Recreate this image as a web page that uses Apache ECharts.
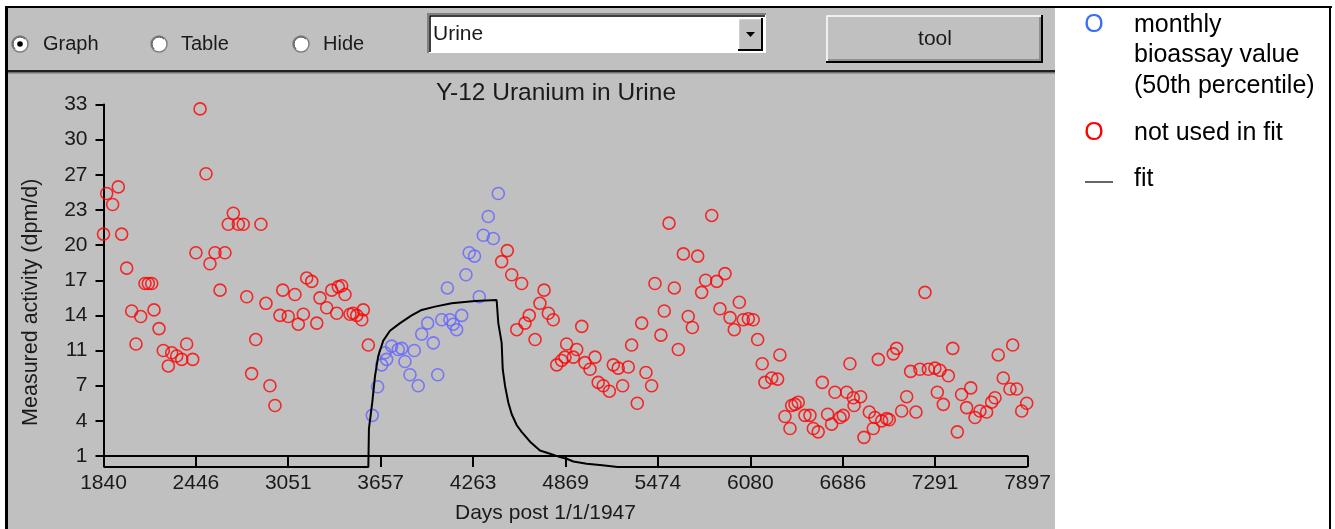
<!DOCTYPE html>
<html><head><meta charset="utf-8">
<script src="https://cdn.jsdelivr.net/npm/echarts@6/dist/echarts.min.js"></script>
<style>html,body{margin:0;padding:0;background:#fff}#chart{width:1335px;height:529px}</style>
</head><body><div id="chart"></div>
<script>
// ---- tick labels ----
const xTickValues = [1840, 2446, 3051, 3657, 4263, 4869, 5474, 6080, 6686, 7291, 7897];
const yTickValues = [1, 4.2, 7.4, 10.6, 13.8, 17, 20.2, 23.4, 26.6, 29.8, 33];
const yTickLabels = ['1', '4', '7', '11', '14', '17', '20', '23', '27', '30', '33'];

// ---- monthly bioassay values used in fit (blue) ----
const usedDays = [3602, 3637, 3664, 3685, 3696, 3729, 3772, 3795, 3816, 3849, 3877, 3903, 3926, 3965, 4002, 4031, 4057, 4094, 4111, 4133, 4155, 4188, 4216, 4237, 4272, 4303, 4330, 4362, 4395, 4428];
const usedValues = [4.7, 7.3, 9.3, 10.4, 9.8, 11.0, 10.7, 10.8, 9.6, 8.4, 10.6, 7.4, 12.1, 13.1, 11.3, 8.4, 13.4, 16.3, 13.4, 13.0, 12.5, 13.8, 17.5, 19.5, 19.2, 15.5, 21.1, 22.8, 20.8, 24.9];

// ---- values not used in fit (red) ----
const notUsedDays = [1840, 1861, 1900, 1937, 1959, 1992, 2025, 2053, 2084, 2112, 2134, 2156, 2171, 2204, 2232, 2265, 2287, 2320, 2353, 2385, 2425, 2446, 2473, 2512, 2538, 2571, 2604, 2636, 2658, 2691, 2724, 2756, 2779, 2811, 2838, 2872, 2905, 2931, 2964, 2997, 3015, 3051, 3095, 3117, 3150, 3172, 3205, 3238, 3259, 3303, 3336, 3369, 3379, 3401, 3423, 3456, 3477, 3500, 3533, 3543, 3576,
  4450, 4487, 4516, 4549, 4581, 4603, 4631, 4669, 4701, 4728, 4756, 4788, 4811, 4843, 4865, 4876, 4920, 4942, 4975, 4996, 5029, 5062, 5083, 5116, 5156, 5182, 5214, 5243, 5280, 5302, 5339, 5368, 5396, 5433, 5455, 5494, 5516, 5547, 5582, 5608, 5641, 5673, 5700, 5735, 5761, 5787, 5827, 5860, 5881, 5914, 5947, 5975, 6008, 6034, 6067, 6099, 6128, 6158, 6176, 6220, 6259, 6274, 6307, 6340, 6351, 6373, 6394, 6438, 6471, 6493, 6525, 6552, 6587, 6613, 6635, 6668, 6689, 6712, 6733, 6755, 6760, 6803, 6825, 6860, 6886, 6897, 6919, 6941, 6974, 6991, 7017, 7039, 7072, 7105, 7131, 7166, 7192, 7225, 7247, 7290, 7306, 7323, 7345, 7378, 7407, 7437, 7465, 7498, 7525, 7553, 7585, 7629, 7662, 7684, 7705, 7738, 7782, 7800, 7826, 7859, 7892];
const notUsedValues = [21.2, 24.9, 23.9, 25.5, 21.2, 18.1, 14.2, 11.2, 13.7, 16.7, 16.7, 16.7, 14.3, 12.6, 10.6, 9.2, 10.4, 10.1, 9.8, 11.2, 9.8, 19.5, 32.6, 26.7, 18.5, 19.5, 16.1, 19.5, 22.1, 23.1, 22.1, 22.1, 15.5, 8.5, 11.6, 22.1, 14.9, 7.4, 5.6, 13.8, 16.1, 13.7, 15.7, 13.0, 13.9, 17.2, 16.9, 13.1, 15.4, 14.5, 16.1, 14.0, 16.4, 16.5, 15.7, 13.9, 14.0, 13.8, 13.4, 14.3, 11.1,
  18.7, 19.7, 17.5, 12.5, 16.7, 13.1, 13.8, 11.6, 14.9, 16.1, 14.0, 13.4, 9.3, 9.7, 10.0, 11.2, 10.0, 10.7, 12.8, 9.5, 8.9, 10.0, 7.7, 7.4, 6.9, 9.3, 9.0, 7.4, 9.1, 11.1, 5.8, 13.1, 8.6, 7.4, 16.7, 12.0, 14.2, 22.2, 16.3, 10.7, 19.4, 13.7, 12.7, 19.2, 15.9, 17.0, 22.9, 16.9, 14.4, 17.6, 13.6, 12.5, 15.0, 13.4, 13.5, 13.4, 11.6, 9.4, 7.7, 8.1, 8.0, 10.2, 4.6, 3.5, 5.6, 5.7, 5.9, 4.7, 4.7, 3.5, 3.2, 7.7, 4.8, 3.9, 6.8, 4.5, 4.7, 6.8, 9.4, 6.3, 5.6, 6.4, 2.7, 5.0, 3.5, 4.5, 9.8, 4.2, 4.4, 4.3, 10.3, 10.8, 5.1, 6.4, 8.7, 5.0, 8.9, 15.9, 8.9, 9.0, 6.8, 8.8, 5.7, 8.3, 10.8, 3.2, 6.6, 5.4, 7.2, 4.5, 5.1, 5.0, 5.9, 6.3, 10.2, 8.1, 7.1, 11.1, 7.1, 5.1, 5.8];

// ---- fitted curve ----
const fitDays = [1840, 3576, 3580, 3602, 3620, 3641, 3674, 3718, 3784, 3860, 3926, 4013, 4122, 4275, 4417, 4428, 4450, 4457, 4472, 4493, 4516, 4549, 4581, 4636, 4701, 4767, 4833, 4876, 4920, 5007, 5110, 5210, 7897];
const fitValues = [0, 0, 3.5, 5.9, 8.3, 10.1, 11.5, 12.4, 13.1, 13.8, 14.3, 14.6, 14.9, 15.1, 15.2, 13.1, 11.3, 8.9, 7.4, 5.9, 4.8, 3.8, 3.2, 2.3, 1.5, 1.2, 0.9, 0.75, 0.5, 0.3, 0.15, 0, 0];

const zip = (a, b) => a.map((v, i) => [v, b[i]]);
const FONT = 'Liberation Sans';
const INK = '#1a1a1a';

const chart = echarts.init(document.getElementById('chart'), null, { renderer: 'canvas' });

function radio(cx, cy, selected) {
  const els = [
    { type: 'circle', z: 10, shape: { cx, cy, r: 8 }, style: { fill: '#fff', stroke: '#808080', lineWidth: 1.5 } },
    { type: 'arc', z: 11, shape: { cx, cy, r: 7, startAngle: Math.PI * 0.75, endAngle: Math.PI * 1.75 }, style: { stroke: '#404040', lineWidth: 1, fill: null } }
  ];
  if (selected) els.push({ type: 'circle', z: 12, shape: { cx, cy, r: 2.8 }, style: { fill: '#000' } });
  return els;
}

const graphics = [
  // gray panel
  { type: 'rect', z: -10, shape: { x: 6, y: 7, width: 1049, height: 522 }, style: { fill: '#c0c0c0' } },
  // separator under toolbar
  { type: 'rect', z: 10, shape: { x: 8, y: 70, width: 1047, height: 2 }, style: { fill: '#202020' } },
  { type: 'rect', z: 10, shape: { x: 8, y: 72, width: 1047, height: 1.5 }, style: { fill: '#707070' } },
  // radio buttons
  ...radio(20, 44, true),
  { type: 'text', z: 10, style: { x: 43, y: 44, text: 'Graph', font: '20px ' + FONT, fill: INK, verticalAlign: 'middle' } },
  ...radio(159, 44, false),
  { type: 'text', z: 10, style: { x: 181, y: 44, text: 'Table', font: '20px ' + FONT, fill: INK, verticalAlign: 'middle' } },
  ...radio(301, 44, false),
  { type: 'text', z: 10, style: { x: 323, y: 44, text: 'Hide', font: '20px ' + FONT, fill: INK, verticalAlign: 'middle' } },
  // dropdown
  { type: 'rect', z: 10, shape: { x: 428, y: 14, width: 338, height: 39 }, style: { fill: '#fff' } },
  { type: 'polyline', z: 11, shape: { points: [[428, 53], [428, 14], [766, 14]] }, style: { stroke: '#808080', lineWidth: 2, fill: null } },
  { type: 'polyline', z: 11, shape: { points: [[430, 52], [430, 16], [765, 16]] }, style: { stroke: '#000', lineWidth: 1.5, fill: null } },
  { type: 'rect', z: 11, shape: { x: 738, y: 18, width: 24, height: 32 }, style: { fill: '#c0c0c0' } },
  { type: 'polyline', z: 12, shape: { points: [[738.5, 50], [738.5, 18.5], [762, 18.5]] }, style: { stroke: '#fff', lineWidth: 1.5, fill: null } },
  { type: 'polyline', z: 12, shape: { points: [[738, 50], [762, 50], [762, 18]] }, style: { stroke: '#000', lineWidth: 2, fill: null } },
  { type: 'polygon', z: 12, shape: { points: [[746, 32], [755, 32], [750.5, 37]] }, style: { fill: '#000' } },
  { type: 'text', z: 12, style: { x: 433, y: 34, text: 'Urine', font: '21px ' + FONT, fill: INK, verticalAlign: 'middle' } },
  // tool button
  { type: 'rect', z: 10, shape: { x: 826, y: 15, width: 216, height: 47 }, style: { fill: '#c0c0c0' } },
  { type: 'polyline', z: 11, shape: { points: [[827, 61], [827, 16], [1041, 16]] }, style: { stroke: '#fff', lineWidth: 1.5, fill: null } },
  { type: 'polyline', z: 11, shape: { points: [[826, 62], [1042, 62], [1042, 15]] }, style: { stroke: '#000', lineWidth: 2, fill: null } },
  { type: 'polyline', z: 11, shape: { points: [[828, 60], [1040, 60], [1040, 17]] }, style: { stroke: '#808080', lineWidth: 1.5, fill: null } },
  { type: 'text', z: 12, style: { x: 935, y: 39, text: 'tool', font: '21px ' + FONT, fill: INK, align: 'center', verticalAlign: 'middle' } },
  // frame
  { type: 'rect', z: 20, shape: { x: 5, y: 6, width: 1327, height: 2 }, style: { fill: '#000' } },
  { type: 'rect', z: 20, shape: { x: 5, y: 6, width: 3, height: 523 }, style: { fill: '#000' } },
  { type: 'rect', z: 20, shape: { x: 1329, y: 6, width: 2, height: 523 }, style: { fill: '#000' } },
  // legend
  { type: 'text', z: 10, style: { x: 1094, y: 25, text: 'O', font: '25px ' + FONT, fill: '#3b6ef5', align: 'center', verticalAlign: 'middle' } },
  { type: 'text', z: 10, style: { x: 1134, y: 25, text: 'monthly', font: '25px ' + FONT, fill: '#000', verticalAlign: 'middle' } },
  { type: 'text', z: 10, style: { x: 1134, y: 55.5, text: 'bioassay value', font: '25px ' + FONT, fill: '#000', verticalAlign: 'middle' } },
  { type: 'text', z: 10, style: { x: 1134, y: 86, text: '(50th percentile)', font: '25px ' + FONT, fill: '#000', verticalAlign: 'middle' } },
  { type: 'text', z: 10, style: { x: 1094, y: 133.5, text: 'O', font: '25px ' + FONT, fill: '#ff0000', align: 'center', verticalAlign: 'middle' } },
  { type: 'text', z: 10, style: { x: 1134, y: 133.5, text: 'not used in fit', font: '25px ' + FONT, fill: '#000', verticalAlign: 'middle' } },
  { type: 'line', z: 10, shape: { x1: 1085, y1: 182, x2: 1113, y2: 182 }, style: { stroke: '#333', lineWidth: 1.5 } },
  { type: 'text', z: 10, style: { x: 1134, y: 179, text: 'fit', font: '25px ' + FONT, fill: '#000', verticalAlign: 'middle' } }
];

const option = {
  animation: false,
  backgroundColor: '#ffffff',
  textStyle: { fontFamily: FONT },
  title: {
    text: 'Y-12 Uranium in Urine',
    left: 551, top: 76, textAlign: 'center',
    textStyle: { fontFamily: FONT, fontSize: 24.5, fontWeight: 'normal', color: INK }
  },
  grid: { left: 103.5, right: 307.5, top: 104.5, bottom: 70, containLabel: false },
  xAxis: {
    type: 'value', min: 1840, max: 7897,
    name: 'Days post 1/1/1947', nameLocation: 'middle', nameGap: 47,
    nameTextStyle: { fontFamily: FONT, fontSize: 21, color: INK, padding: [0, 40, 0, 0] },
    axisLine: { onZero: false, lineStyle: { color: '#000', width: 2 } },
    axisTick: { customValues: xTickValues, length: 11, lineStyle: { color: '#000', width: 2 } },
    axisLabel: { customValues: xTickValues, margin: 17, fontFamily: FONT, fontSize: 21, color: INK, formatter: v => String(Math.round(v)) },
    splitLine: { show: false }
  },
  yAxis: {
    type: 'value', min: 1, max: 33,
    name: 'Measured activity (dpm/d)', nameLocation: 'middle', nameGap: 61,
    nameTextStyle: { fontFamily: FONT, fontSize: 21.5, color: INK, padding: [0, 44, 0, 0] },
    axisLine: { lineStyle: { color: '#000', width: 2 } },
    axisTick: { customValues: yTickValues, length: 8, lineStyle: { color: '#000', width: 2 } },
    axisLabel: {
      customValues: yTickValues, margin: 16, fontFamily: FONT, fontSize: 21, color: INK,
      formatter: v => { const i = yTickValues.findIndex(t => Math.abs(t - v) < 1e-6); return i >= 0 ? yTickLabels[i] : String(Math.round(v)); }
    },
    splitLine: { show: false }
  },
  series: [
    {
      name: 'not used in fit', type: 'scatter', data: zip(notUsedDays, notUsedValues),
      symbol: 'circle', symbolSize: 12,
      itemStyle: { color: 'rgba(0,0,0,0)', borderColor: '#ff0000', borderWidth: 1.6 },
      emphasis: { disabled: true }, z: 3
    },
    {
      name: 'monthly bioassay value (50th percentile)', type: 'scatter', data: zip(usedDays, usedValues),
      symbol: 'circle', symbolSize: 12,
      itemStyle: { color: 'rgba(0,0,0,0)', borderColor: '#6464ff', borderWidth: 1.6 },
      emphasis: { disabled: true }, z: 3
    },
    {
      name: 'fit', type: 'line', data: zip(fitDays, fitValues),
      showSymbol: false, symbol: 'none', clip: false, smooth: false,
      lineStyle: { color: '#000', width: 2 }, emphasis: { disabled: true }, z: 4
    }
  ],
  graphic: { elements: graphics }
};
chart.setOption(option);
</script></body></html>
